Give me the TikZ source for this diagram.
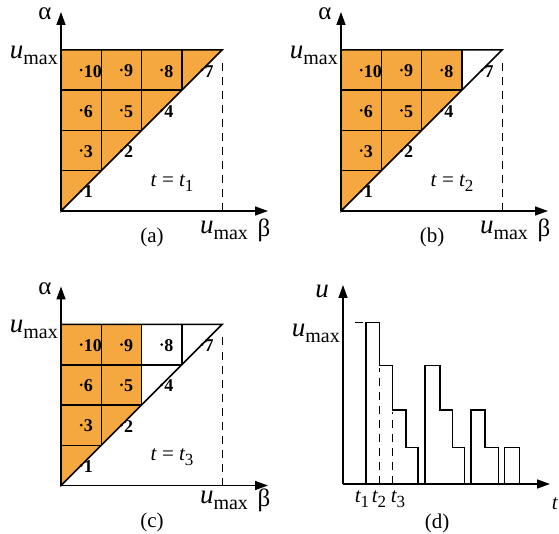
\documentclass[tikz,border=0pt]{standalone}
\usepackage{fontspec}
\setmainfont{Liberation Serif}
\usetikzlibrary{arrows.meta}
\definecolor{org}{RGB}{246,168,64}
\def\cs{40.25}
\tikzset{
 ax/.style={line width=1.5pt,-{Triangle[length=13pt,width=9pt]}},
 gridline/.style={line width=1.5pt},
 dashline/.style={line width=0.8pt,dash pattern=on 8pt off 6pt},
 pnt/.style={circle,fill=black,inner sep=0pt,minimum size=3pt},
 num/.style={font=\fontsize{18}{18}\selectfont\bfseries,anchor=west,inner sep=0.5pt},
 lab/.style={font=\fontsize{21}{21}\selectfont,inner sep=0pt},
 greek/.style={font=\fontsize{25}{25}\selectfont,inner sep=0pt},
}
\newcommand{\Umax}{{\fontsize{27}{27}\selectfont\itshape u}\raisebox{-6pt}{\fontsize{20}{20}\selectfont max}}
\newcommand{\tsub}[1]{{\itshape t}\raisebox{-5pt}{\fontsize{17}{17}\selectfont #1}}
\newcommand{\tripanel}[8]{%
\begin{scope}[shift={(#2,#3)}]
 \fill[org] #4;
 \coordinate (#1o) at (0,0);
 \coordinate (#1tr) at (161,161);
 \coordinate (#1tl) at (0,161);
 \coordinate (#1br) at (161,0);
 \coordinate (#1dt) at (161,150);
 \coordinate (#1yt) at (0,199);
 \coordinate (#1xt) at (207,0);
 \draw[gridline] (0,\cs) -- (\cs,\cs) (0,2*\cs) -- (2*\cs,2*\cs) (0,3*\cs) -- (3*\cs,3*\cs)
   (\cs,\cs) -- (\cs,4*\cs) (2*\cs,2*\cs) -- (2*\cs,4*\cs) (3*\cs,3*\cs) -- (3*\cs,4*\cs);
 \draw[gridline] (#1o) -- (#1tr) -- (#1tl) -- cycle;
 \draw[dashline] (#1br) -- (#1dt);
 \draw[ax] (#1o) -- (#1yt);
 \draw[ax] (#1o) -- (#1xt);
 \foreach \i/\j/\n in {0/0/1,1/1/2,0/1/3,2/2/4,1/2/5,0/2/6,3/3/7,2/3/8,1/3/9,0/3/10}{
   \node[pnt] (#1p\n) at ({(\i+0.5)*\cs},{(\j+0.5)*\cs}) {};
   \node[num] (#1n\n) at ([xshift=0.3pt,yshift=-1pt]#1p\n.east) {\n};
 }
 \node[greek] (#1alpha) at (-16,197) {α};
 \node[lab,anchor=east] (#1uy) at (-3,156) {\Umax};
 \node[lab] (#1ux) at (163,#8) {\Umax};
 \node[greek] (#1beta) at (203,#8) {β};
 \node[lab] (#1t) at (111,28) {#5};
 \node[lab] (#1cap) at (91,#7) {#6};
\end{scope}}
\begin{document}
\begin{tikzpicture}[x=1pt,y=1pt]
\useasboundingbox (0,0) rectangle (559,533);
\tripanel{a}{61}{322}{(0,0) -- (161,161) -- (0,161) -- cycle}{\textit{t} = \tsub{1}}{(a)}{-26}{-19}
\tripanel{b}{341}{322}{(0,0) -- (3*\cs,3*\cs) -- (3*\cs,161) -- (0,161) -- cycle}{\textit{t} = \tsub{2}}{(b)}{-26}{-19}
\tripanel{c}{61}{47.5}{(0,0) -- (2*\cs,2*\cs) -- (2*\cs,161) -- (0,161) -- cycle}{\textit{t} = \tsub{3}}{(c)}{-37}{-15}
\begin{scope}[shift={(343,49)}]
 \coordinate (do) at (0,0);
 \coordinate (dyt) at (0,199);
 \coordinate (dxt) at (207,0);
 \draw[ax] (do) -- (dyt);
 \draw[ax] (do) -- (dxt);
 \draw[gridline] (23,0) |- (36.3,161.3) |- (49.7,118.7) |- (63,74) |- (75,36.7) -- (75,0);
 \draw[gridline] (82,0) |- (97,118.7) |- (109.7,74) |- (121.3,36.7) -- (121.3,0);
 \draw[gridline] (128,0) |- (142,74) |- (155.3,36.7) -- (155.3,0);
 \draw[gridline] (161.3,0) |- (176.3,36.7) -- (176.3,0);
 \draw[dashline] (36.3,0) -- (36.3,116);
 \draw[dashline] (49.7,0) -- (49.7,72);
 \draw[dashline] (12,161.3) -- (23,161.3);
 \node[lab] (du) at (-21,193) {\fontsize{27}{27}\selectfont\itshape u};
 \node[lab,anchor=east] (dumax) at (-3,151) {\Umax};
 \node[lab] (dt1) at (19,-15) {\tsub{1}};
 \node[lab] (dt2) at (36,-15) {\tsub{2}};
 \node[lab] (dt3) at (55,-15) {\tsub{3}};
 \node[lab] (dt) at (212,-20) {\textit{t}};
 \node[lab] (dcap) at (94,-39) {(d)};
\end{scope}
\end{tikzpicture}
\end{document}
